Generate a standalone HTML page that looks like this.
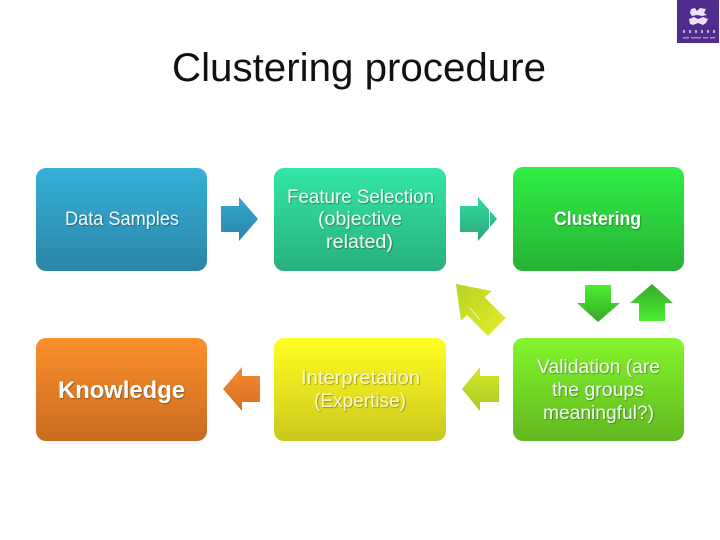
<!DOCTYPE html>
<html lang="en">
<head>
<meta charset="utf-8">
<title>Clustering procedure</title>
<style>
html,body{margin:0;padding:0;background:#fff;width:720px;height:540px;overflow:hidden}
svg{display:block}
text{font-family:"Liberation Sans",sans-serif;text-anchor:start}
.t{fill:#eef8f4;font-size:19px;filter:url(#ts)}
.y{fill:#f8f8c8;font-size:19px;filter:url(#ts)}
.b{fill:#fff;font-weight:bold;filter:url(#ts)}
</style>
</head>
<body>
<svg width="720" height="540" viewBox="0 0 720 540" xmlns="http://www.w3.org/2000/svg">
<defs>
<filter id="ts" x="-10%" y="-30%" width="120%" height="160%"><feDropShadow dx="0.8" dy="0.8" stdDeviation="0.6" flood-color="#000" flood-opacity="0.4"/></filter>
<linearGradient id="g1" x1="0" y1="0" x2="0" y2="1"><stop offset="0" stop-color="#35b0d8"/><stop offset="1" stop-color="#2b85a8"/></linearGradient>
<linearGradient id="g2" x1="0" y1="0" x2="0" y2="1"><stop offset="0" stop-color="#33e6a6"/><stop offset="1" stop-color="#28b07e"/></linearGradient>
<linearGradient id="g3" x1="0" y1="0" x2="0" y2="1"><stop offset="0" stop-color="#30ee44"/><stop offset="1" stop-color="#26b236"/></linearGradient>
<linearGradient id="g4" x1="0" y1="0" x2="0" y2="1"><stop offset="0" stop-color="#84f52c"/><stop offset="1" stop-color="#62b820"/></linearGradient>
<linearGradient id="g5" x1="0" y1="0" x2="0" y2="1"><stop offset="0" stop-color="#ffff22"/><stop offset="1" stop-color="#ccc81e"/></linearGradient>
<linearGradient id="g6" x1="0" y1="0" x2="0" y2="1"><stop offset="0" stop-color="#fd8f2c"/><stop offset="1" stop-color="#c86c20"/></linearGradient>
<linearGradient id="a1" x1="0" y1="0" x2="0" y2="1"><stop offset="0" stop-color="#35a8d0"/><stop offset="1" stop-color="#2b85a8"/></linearGradient>
<linearGradient id="a2" x1="0" y1="0" x2="0" y2="1"><stop offset="0" stop-color="#33dca0"/><stop offset="1" stop-color="#28a878"/></linearGradient>
<linearGradient id="a3" x1="0" y1="0" x2="0" y2="1"><stop offset="0" stop-color="#4cee30"/><stop offset="1" stop-color="#38a82a"/></linearGradient>
<linearGradient id="a4" x1="0" y1="0" x2="0" y2="1"><stop offset="0" stop-color="#38a82a"/><stop offset="1" stop-color="#4cee30"/></linearGradient>
<linearGradient id="a5" x1="0" y1="0" x2="0" y2="1"><stop offset="0" stop-color="#d6ea2a"/><stop offset="1" stop-color="#a8c822"/></linearGradient>
<linearGradient id="a6" x1="0" y1="0" x2="0" y2="1"><stop offset="0" stop-color="#fb8a2c"/><stop offset="1" stop-color="#d07024"/></linearGradient>
<linearGradient id="a7" x1="0" y1="0" x2="1" y2="1"><stop offset="0" stop-color="#b8d222"/><stop offset="1" stop-color="#e2ee2a"/></linearGradient>
</defs>
<rect width="720" height="540" fill="#fff"/>

<text x="172" y="81" font-size="40" fill="#111" textLength="374" lengthAdjust="spacingAndGlyphs">Clustering procedure</text>

<rect x="677" y="0" width="42" height="43" fill="#4f2d8f"/>
<g fill="#e8e2f2">
<polygon points="691,9 695,8 697,11 700,8 706,9 704,13 707,15 702,16 697,15 692,16 690,13"/>
<polygon points="689,19 694,17 698,19 703,17 708,19 706,23 703,25 698,23 693,25 690,24"/>
</g>
<g fill="#d8cfe8" opacity=".8">
<rect x="683" y="30" width="2" height="3"/><rect x="689" y="30" width="2" height="3"/><rect x="695" y="30" width="2" height="3"/><rect x="701" y="30" width="2" height="3"/><rect x="707" y="30" width="2" height="3"/><rect x="713" y="30" width="2" height="3"/>
</g>
<g fill="#cfc4e2" opacity=".65">
<rect x="683" y="37" width="6" height="1.5"/><rect x="691" y="37" width="10" height="1.5"/><rect x="703" y="37" width="5" height="1.5"/><rect x="710" y="37" width="5" height="1.5"/>
</g>

<rect x="36" y="168" width="171" height="103" rx="10" fill="url(#g1)"/>
<rect x="274" y="168" width="172" height="103" rx="10" fill="url(#g2)"/>
<rect x="513" y="167" width="171" height="104" rx="10" fill="url(#g3)"/>
<rect x="513" y="338" width="171" height="103" rx="10" fill="url(#g4)"/>
<rect x="274" y="338" width="172" height="103" rx="10" fill="url(#g5)"/>
<rect x="36" y="338" width="171" height="103" rx="10" fill="url(#g6)"/>

<polygon points="221,206 239,206 239,197 258,219 239,241 239,232 221,232" fill="url(#a1)"/>
<polygon points="460,206 478,206 478,197 497,219 478,241 478,232 460,232" fill="url(#a2)"/>
<line x1="489.5" y1="209" x2="489.5" y2="229" stroke="#fff" stroke-width="1"/>
<polygon points="585,285 611,285 611,303 620,303 598,322 577,303 585,303" fill="url(#a3)"/>
<polygon points="652,284 673,303 665,303 665,321 639,321 639,303 630,303" fill="url(#a4)"/>
<polygon points="456,284 492,291 484.7,297.2 505.5,318 488,336 467,315 461,321" fill="url(#a7)"/>
<line x1="470" y1="308" x2="480" y2="320" stroke="#f2f6a8" stroke-width="1"/>
<polygon points="499,376 480,376 480,367 462,389 480,411 480,402 499,402" fill="url(#a5)"/>
<polygon points="260,376 242,376 242,367 223,389 242,411 242,402 260,402" fill="url(#a6)"/>

<text class="t" x="65" y="225" textLength="114" lengthAdjust="spacingAndGlyphs">Data Samples</text>
<text class="t" x="287" y="203" textLength="147" lengthAdjust="spacingAndGlyphs">Feature Selection</text>
<text class="t" x="318" y="225" textLength="84" lengthAdjust="spacingAndGlyphs">(objective</text>
<text class="t" x="326" y="248" textLength="67" lengthAdjust="spacingAndGlyphs">related)</text>
<text class="b" x="554" y="225" font-size="19" textLength="87" lengthAdjust="spacingAndGlyphs">Clustering</text>
<text class="b" x="58" y="398" font-size="24" textLength="127" lengthAdjust="spacingAndGlyphs">Knowledge</text>
<text class="y" x="301" y="384" textLength="119" lengthAdjust="spacingAndGlyphs">Interpretation</text>
<text class="y" x="314" y="407" textLength="92" lengthAdjust="spacingAndGlyphs">(Expertise)</text>
<text class="t" x="537" y="373" textLength="123" lengthAdjust="spacingAndGlyphs">Validation (are</text>
<text class="t" x="552" y="396" textLength="92" lengthAdjust="spacingAndGlyphs">the groups</text>
<text class="t" x="543" y="419" textLength="111" lengthAdjust="spacingAndGlyphs">meaningful?)</text>
</svg>
</body>
</html>
